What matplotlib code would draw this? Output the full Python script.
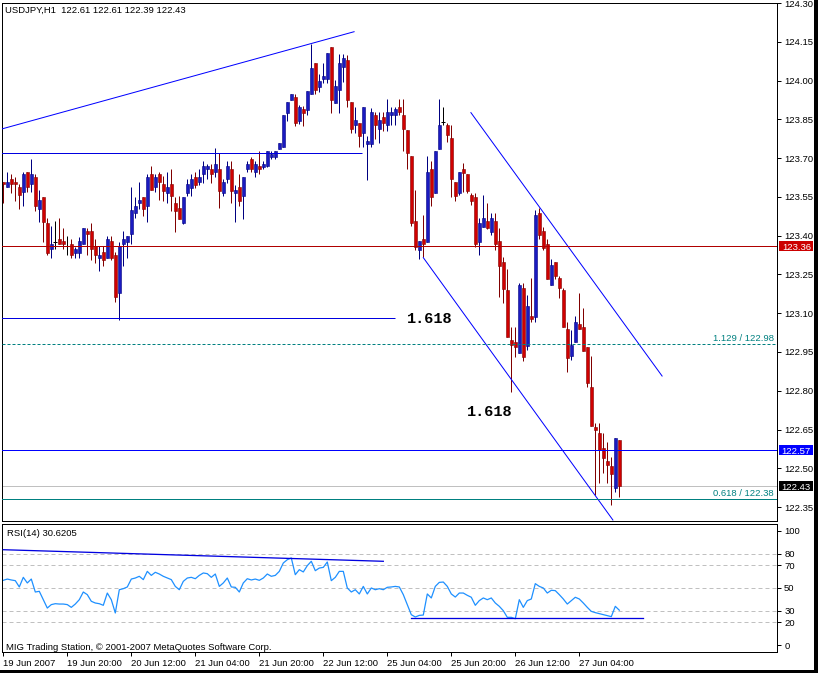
import numpy as np
import matplotlib
matplotlib.use('Agg')
import matplotlib.pyplot as plt
import matplotlib.transforms as mtransforms
from matplotlib.patches import Rectangle

plt.rcParams['font.family'] = ['Liberation Sans', 'DejaVu Sans']

# USDJPY H1 봉 데이터 (시가/고가/저가/종가)
opens = [
    123.606, 123.587, 123.619, 123.606, 123.587, 123.568, 123.646, 123.599, 123.627, 123.504,
    123.548, 123.448, 123.347, 123.377, 123.387, 123.378, 123.359, 123.366, 123.334, 123.334,
    123.366, 123.417, 123.417, 123.359, 123.315, 123.337, 123.315, 123.378, 123.326, 123.177,
    123.366, 123.377, 123.405, 123.486, 123.525, 123.548, 123.516, 123.637, 123.587, 123.637,
    123.600, 123.566, 123.600, 123.526, 123.507, 123.450, 123.564, 123.586, 123.627, 123.606,
    123.637, 123.657, 123.657, 123.645, 123.657, 123.566, 123.618, 123.657, 123.566, 123.590,
    123.555, 123.657, 123.695, 123.645, 123.670, 123.667, 123.670, 123.706, 123.706, 123.736,
    123.744, 123.876, 123.925, 123.936, 123.845, 123.890, 123.886, 123.947, 124.067, 123.976,
    124.007, 124.007, 124.128, 123.914, 123.963, 124.054, 124.080, 123.917, 123.828, 123.837,
    123.796, 123.756, 123.756, 123.866, 123.813, 123.859, 123.827, 123.866, 123.866, 123.896,
    123.866, 123.809, 123.708, 123.457, 123.345, 123.387, 123.377, 123.658, 123.566, 123.736,
    123.838, 123.827, 123.777, 123.606, 123.566, 123.657, 123.637, 123.557, 123.548, 123.377,
    123.435, 123.457, 123.415, 123.457, 123.379, 123.298, 123.190, 122.996, 122.987, 122.947,
    123.199, 122.974, 123.089, 123.087, 123.486, 123.418, 123.366, 123.209, 123.297, 123.235,
    123.190, 123.038, 122.934, 122.987, 123.057, 123.047, 122.968, 122.816, 122.660, 122.635,
    122.577, 122.528, 122.509, 122.423, 122.610]
highs = [
    123.606, 123.646, 123.637, 123.627, 123.599, 123.646, 123.646, 123.697, 123.637, 123.575,
    123.548, 123.467, 123.437, 123.457, 123.467, 123.428, 123.397, 123.386, 123.357, 123.396,
    123.428, 123.428, 123.448, 123.386, 123.359, 123.359, 123.397, 123.397, 123.337, 123.377,
    123.417, 123.397, 123.587, 123.548, 123.606, 123.548, 123.637, 123.668, 123.637, 123.646,
    123.632, 123.645, 123.657, 123.551, 123.555, 123.551, 123.619, 123.637, 123.645, 123.657,
    123.689, 123.676, 123.676, 123.740, 123.718, 123.619, 123.689, 123.689, 123.595, 123.637,
    123.627, 123.689, 123.706, 123.689, 123.727, 123.689, 123.727, 123.727, 123.727, 123.757,
    123.866, 123.916, 123.947, 123.947, 123.907, 123.902, 123.958, 124.141, 124.067, 124.024,
    124.067, 124.105, 124.128, 124.002, 124.103, 124.103, 124.099, 123.917, 123.899, 123.837,
    123.898, 123.786, 123.893, 123.878, 123.878, 123.878, 123.927, 123.899, 123.899, 123.927,
    123.927, 123.809, 123.708, 123.577, 123.381, 123.480, 123.708, 123.688, 123.727, 123.927,
    123.896, 123.837, 123.827, 123.606, 123.645, 123.680, 123.637, 123.564, 123.564, 123.467,
    123.557, 123.525, 123.486, 123.486, 123.428, 123.319, 123.270, 123.048, 123.048, 123.216,
    123.216, 123.170, 123.235, 123.499, 123.506, 123.435, 123.386, 123.310, 123.297, 123.245,
    123.196, 123.067, 123.035, 123.089, 123.177, 123.119, 122.968, 122.934, 122.677, 122.677,
    122.635, 122.603, 122.545, 122.616, 122.610]
lows = [
    123.525, 123.587, 123.566, 123.535, 123.504, 123.516, 123.568, 123.568, 123.497, 123.454,
    123.377, 123.325, 123.315, 123.347, 123.366, 123.347, 123.326, 123.315, 123.315, 123.315,
    123.366, 123.326, 123.306, 123.296, 123.265, 123.284, 123.315, 123.306, 123.143, 123.074,
    123.284, 123.315, 123.366, 123.467, 123.504, 123.477, 123.454, 123.575, 123.568, 123.538,
    123.535, 123.525, 123.497, 123.415, 123.466, 123.445, 123.555, 123.555, 123.586, 123.596,
    123.605, 123.619, 123.605, 123.627, 123.506, 123.555, 123.605, 123.525, 123.454, 123.516,
    123.466, 123.645, 123.645, 123.627, 123.637, 123.657, 123.667, 123.695, 123.695, 123.736,
    123.744, 123.845, 123.925, 123.826, 123.832, 123.826, 123.866, 123.947, 123.947, 123.957,
    123.989, 123.989, 123.876, 123.914, 123.876, 123.996, 123.896, 123.796, 123.796, 123.744,
    123.744, 123.615, 123.744, 123.774, 123.757, 123.806, 123.806, 123.827, 123.827, 123.866,
    123.726, 123.657, 123.437, 123.345, 123.308, 123.319, 123.377, 123.516, 123.566, 123.736,
    123.827, 123.764, 123.548, 123.535, 123.557, 123.570, 123.566, 123.519, 123.357, 123.325,
    123.435, 123.424, 123.403, 123.345, 123.164, 123.138, 123.007, 122.797, 122.932, 122.947,
    122.915, 122.958, 123.067, 123.067, 123.386, 123.345, 123.232, 123.209, 123.232, 123.158,
    123.045, 122.874, 122.919, 122.987, 123.038, 122.955, 122.816, 122.664, 122.397, 122.442,
    122.481, 122.442, 122.358, 122.410, 122.390]
closes = [
    123.598, 123.606, 123.599, 123.599, 123.556, 123.637, 123.587, 123.637, 123.516, 123.537,
    123.454, 123.334, 123.366, 123.377, 123.366, 123.366, 123.359, 123.326, 123.347, 123.378,
    123.428, 123.405, 123.347, 123.326, 123.326, 123.306, 123.387, 123.315, 123.164, 123.359,
    123.387, 123.397, 123.499, 123.516, 123.537, 123.504, 123.627, 123.575, 123.627, 123.606,
    123.574, 123.590, 123.555, 123.497, 123.466, 123.551, 123.600, 123.619, 123.596, 123.627,
    123.670, 123.670, 123.637, 123.677, 123.574, 123.606, 123.670, 123.574, 123.577, 123.535,
    123.627, 123.676, 123.657, 123.676, 123.657, 123.676, 123.727, 123.716, 123.727, 123.757,
    123.866, 123.916, 123.947, 123.837, 123.896, 123.876, 123.958, 124.049, 123.963, 123.998,
    124.018, 124.105, 123.925, 123.978, 124.067, 124.086, 123.925, 123.814, 123.847, 123.786,
    123.898, 123.766, 123.878, 123.827, 123.847, 123.837, 123.878, 123.878, 123.890, 123.878,
    123.814, 123.718, 123.448, 123.357, 123.381, 123.366, 123.646, 123.551, 123.727, 123.827,
    123.838, 123.788, 123.618, 123.555, 123.645, 123.644, 123.574, 123.535, 123.366, 123.448,
    123.467, 123.428, 123.467, 123.366, 123.284, 123.195, 123.007, 122.977, 122.971, 123.209,
    122.932, 123.128, 123.076, 123.480, 123.403, 123.354, 123.232, 123.286, 123.245, 123.196,
    123.045, 122.925, 122.977, 123.067, 123.038, 122.955, 122.829, 122.664, 122.648, 122.571,
    122.539, 122.513, 122.477, 122.616, 122.430]

# RSI(14) 값
rsi = [
    56.7, 57.8, 57.0, 56.4, 50.9, 59.3, 54.4, 57.8, 46.5, 47.1,
    39.8, 32.5, 35.5, 36.3, 36.0, 36.0, 35.5, 33.1, 36.0, 39.8,
    46.5, 44.2, 38.4, 36.9, 36.3, 34.9, 45.6, 39.8, 28.2, 48.5,
    49.4, 50.9, 57.8, 58.7, 60.2, 57.3, 64.5, 61.0, 63.7, 62.2,
    60.2, 58.7, 57.3, 51.4, 48.5, 55.8, 58.7, 59.3, 58.1, 61.0,
    63.1, 62.5, 59.3, 62.2, 51.4, 54.4, 58.7, 50.9, 50.6, 46.5,
    54.4, 58.1, 57.0, 57.8, 56.7, 58.7, 62.2, 60.2, 61.0, 64.5,
    71.8, 74.7, 76.2, 61.6, 66.0, 64.0, 69.5, 73.3, 65.1, 67.4,
    68.0, 72.7, 56.4, 59.3, 64.5, 64.5, 50.0, 46.5, 48.5, 44.8,
    51.4, 44.8, 50.0, 48.5, 49.4, 48.5, 50.6, 50.9, 51.4, 50.9,
    44.2, 35.5, 26.7, 24.7, 26.1, 26.4, 44.8, 41.3, 51.4, 54.9,
    55.2, 51.4, 44.8, 42.1, 45.6, 45.6, 43.6, 41.9, 34.9, 39.0,
    41.3, 39.8, 41.3, 36.9, 34.0, 30.2, 24.4, 24.4, 23.2, 39.8,
    33.1, 39.0, 40.4, 53.8, 51.4, 50.0, 45.6, 48.0, 47.7, 44.2,
    40.4, 36.0, 39.0, 41.9, 40.4, 36.9, 33.1, 29.6, 28.5, 27.6,
    26.7, 25.8, 25.0, 34.0, 30.62]

time_labels = ['19 Jun 2007', '19 Jun 20:00', '20 Jun 12:00', '21 Jun 04:00', '21 Jun 20:00',
               '22 Jun 12:00', '25 Jun 04:00', '25 Jun 20:00', '26 Jun 12:00', '27 Jun 04:00']
price_ticks = [124.30, 124.15, 124.00, 123.85, 123.70, 123.55, 123.40, 123.25,
               123.10, 122.95, 122.80, 122.65, 122.50, 122.35]
rsi_ticks = [100, 80, 70, 50, 30, 20, 0]
rsi_levels = [80, 70, 50, 30, 20]

# 추세선 (봉 번호, 가격)
up_trend_x, up_trend_y = [-0.8, 87.7], [123.811, 124.189]
chan_top_x, chan_top_y = [116.9, 164.7], [123.876, 122.857]
chan_bot_x, chan_bot_y = [105.0, 152.4], [123.315, 122.300]
rsi_top_x, rsi_top_y = [0, 95], [83.4, 73.3]
rsi_bot_x, rsi_bot_y = [102, 160], [23.8, 23.8]
level_high, level_high_end = 123.72, 89.7
level_low, level_low_end = 123.08, 97.9
level_red = 123.36
fib_1129 = 122.98
level_blue = 122.57
bid_price = 122.43
fib_0618 = 122.38

W, H = 818, 673
FS = 6.8
PX = 0.72  # 1 픽셀 선 굵기


def box(l, t, r, b):
    return [l / W, 1 - b / H, (r - l) / W, (b - t) / H]


fig = plt.figure(figsize=(W / 100, H / 100), dpi=100)
ax = fig.add_axes(box(2.3, 2.5, 776.5, 521.3))
ax2 = fig.add_axes(box(2.3, 523.7, 776.5, 652.0))

# 캔들
for i in range(len(opens)):
    o, h, l, c = opens[i], highs[i], lows[i], closes[i]
    if c > o:
        body, edge = '#1a1ac0', '#000080'
    elif c < o:
        body, edge = '#d00000', '#800000'
    else:
        body, edge = 'black', 'black'
    ax.vlines(i, l, h, color=edge, lw=PX, zorder=2)
    if c != o:
        ax.add_patch(Rectangle((i - 0.375, min(o, c)), 0.75, abs(c - o),
                               facecolor=body, edgecolor=edge, lw=0.4, zorder=2.5))
    else:
        ax.hlines(o, i - 0.5, i + 0.5, color='black', lw=PX, zorder=2.5)

# 수평선, 추세선
ax.plot(up_trend_x, up_trend_y, color='#0000ff', lw=PX, zorder=3)
ax.plot(chan_top_x, chan_top_y, color='#0000ff', lw=PX, zorder=3)
ax.plot(chan_bot_x, chan_bot_y, color='#0000ff', lw=PX, zorder=3)
ax.hlines(level_high, -1, level_high_end, color='#0000e0', lw=PX, zorder=3)
ax.hlines(level_low, -1, level_low_end, color='#0000e0', lw=PX, zorder=3)
ax.axhline(level_red, color='#b00000', lw=PX, zorder=3)
ax.axhline(fib_1129, color='#008080', lw=PX, ls=(0, (3, 2)), zorder=3)
ax.axhline(level_blue, color='#0000ff', lw=PX, zorder=3)
ax.axhline(bid_price, color='#c0c0c0', lw=PX, zorder=1)
ax.axhline(fib_0618, color='#008080', lw=PX, zorder=3)

mono = dict(family='Liberation Mono', fontweight='bold', fontsize=11)
ax.text(100.85, 123.076, '1.618', va='center', ha='left', **mono)
ax.text(115.85, 122.716, '1.618', va='center', ha='left', **mono)

blend = mtransforms.blended_transform_factory(fig.transFigure, ax.transData)
ax.text(774 / W, fib_1129 + 0.004, '1.129 / 122.98', transform=blend, ha='right',
        va='bottom', color='#008080', fontsize=FS)
ax.text(774 / W, fib_0618 + 0.004, '0.618 / 122.38', transform=blend, ha='right',
        va='bottom', color='#008080', fontsize=FS)

# 오른쪽 가격 표시 상자
for price, col in [(level_red, '#cc0000'), (level_blue, '#0000ff'), (bid_price, 'black')]:
    ax.add_patch(Rectangle((779.3 / W, price - 0.0195), 34 / W, 0.039, transform=blend,
                           facecolor=col, edgecolor='none', clip_on=False, zorder=5))
    ax.text(796.3 / W, price, f'{price:.2f}', transform=blend, ha='center',
            va='center_baseline', color='white', fontsize=FS, clip_on=False, zorder=6)

ax.set_xlim(-0.25, 193.3)
ax.set_ylim(122.295, 124.302)
ax.set_xticks([])
ax.yaxis.tick_right()
ax.set_yticks(price_ticks)
ax.set_yticklabels([f'{p:.2f}' for p in price_ticks])
ax.tick_params(axis='y', length=3, width=PX, pad=2.5, labelsize=FS)

# RSI 창
x = np.arange(len(rsi))
for lv in rsi_levels:
    ax2.axhline(lv, color='#c0c0c0', lw=PX, ls=(0, (4, 3)), zorder=1)
ax2.plot(x, rsi, color='#1e90ff', lw=0.9, zorder=2)
ax2.plot(rsi_top_x, rsi_top_y, color='#0000e0', lw=PX * 1.3, zorder=3)
ax2.plot(rsi_bot_x, rsi_bot_y, color='#0000e0', lw=PX * 1.3, zorder=3)
ax2.set_xlim(-0.25, 193.3)
ax2.set_ylim(-5.85, 106.1)
ax2.yaxis.tick_right()
ax2.set_yticks(rsi_ticks)
ax2.set_yticklabels([str(t) for t in rsi_ticks])
ax2.set_xticks(np.arange(0, 16 * len(time_labels), 16))
ax2.set_xticklabels(time_labels, ha='left')
ax2.tick_params(axis='y', length=3, width=PX, pad=2.5, labelsize=FS)
ax2.tick_params(axis='x', length=3, width=PX, pad=2, labelsize=FS)

for a in (ax, ax2):
    for s in a.spines.values():
        s.set_linewidth(PX)
        s.set_color('black')

fig.text(5 / W, 1 - 10 / H, 'USDJPY,H1  122.61 122.61 122.39 122.43', va='center',
         fontsize=FS)
fig.text(7 / W, 1 - 534 / H, 'RSI(14) 30.6205', va='center', fontsize=FS)
fig.text(5.5 / W, 1 - 647 / H, 'MIG Trading Station, \u00a9 2001-2007 MetaQuotes Software Corp.',
         va='center', fontsize=FS)

# 창 테두리
fig.patches.append(Rectangle((814 / W, 0), 4 / W, 1, transform=fig.transFigure,
                             facecolor='black', edgecolor='none'))
fig.patches.append(Rectangle((0, 0), 1, 3 / H, transform=fig.transFigure,
                             facecolor='black', edgecolor='none'))

fig.savefig('out.png', dpi=100)
